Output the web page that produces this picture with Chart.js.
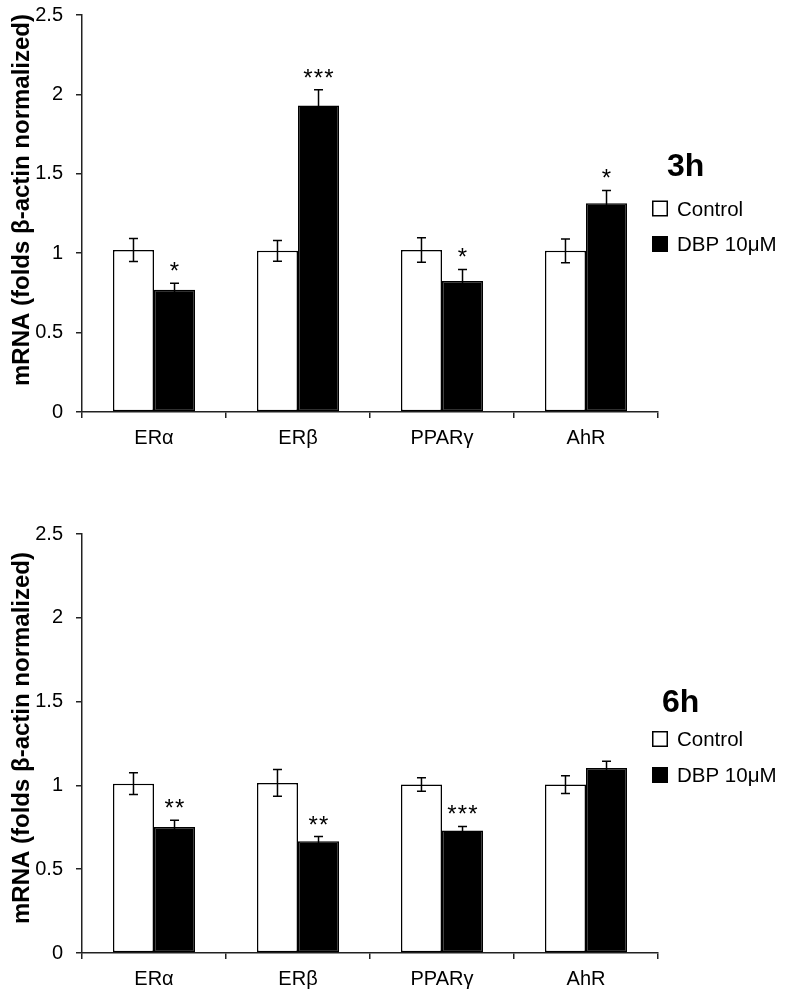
<!DOCTYPE html>
<html>
<head>
<meta charset="utf-8">
<script src="https://cdn.jsdelivr.net/npm/chart.js@4.4.1/dist/chart.umd.min.js"></script>
<style>
  html, body { margin: 0; padding: 0; background: #fff; }
  body { width: 786px; height: 992px; position: relative; overflow: hidden; }
  canvas { position: absolute; left: 0; }
  #chart3h { top: -10px; }
  #chart6h { top: 500px; }
</style>
</head>
<body>
<canvas id="chart3h" width="786" height="480"></canvas>
<canvas id="chart6h" width="786" height="492"></canvas>
<script>
const genes = ['ERα', 'ERβ', 'PPARγ', 'AhR'];
const seriesNames = ['Control', 'DBP 10μM'];
const yTicks = [0, 0.5, 1, 1.5, 2, 2.5];
const yTitle = 'mRNA (folds β-actin normalized)';

// 3h
const control3h = [1.02, 1.015, 1.02, 1.015];
const controlErr3h = [0.073, 0.065, 0.077, 0.075];
const dbp3h = [0.77, 1.93, 0.825, 1.315];
const dbpErr3h = [0.04, 0.10, 0.073, 0.08];
const sig3h = ['*', '***', '*', '*'];

// 6h
const control6h = [1.01, 1.015, 1.005, 1.005];
const controlErr6h = [0.065, 0.08, 0.04, 0.053];
const dbp6h = [0.752, 0.667, 0.731, 1.104];
const dbpErr6h = [0.04, 0.028, 0.024, 0.04];
const sig6h = ['**', '**', '***', ''];

const FONT = "'Liberation Sans', Arial, sans-serif";

// error bars + significance stars
const errorBars = {
    id: 'errorBars',
    afterDatasetsDraw(chart) {
        const ctx = chart.ctx;
        const y = chart.scales.y;
        chart.data.datasets.forEach((ds, i) => {
            const meta = chart.getDatasetMeta(i);
            meta.data.forEach((bar, j) => {
                const v = ds.data[j], e = ds.errors[j];
                const top = y.getPixelForValue(v + e);
                const bot = y.getPixelForValue(v - e);
                ctx.save();
                ctx.strokeStyle = '#000';
                ctx.lineWidth = 1.5;
                ctx.beginPath();
                ctx.moveTo(bar.x, top); ctx.lineTo(bar.x, bot);
                ctx.moveTo(bar.x - 4.5, top); ctx.lineTo(bar.x + 4.5, top);
                ctx.moveTo(bar.x - 4.5, bot); ctx.lineTo(bar.x + 4.5, bot);
                ctx.stroke();
                const s = ds.stars ? ds.stars[j] : '';
                if (s) {
                    ctx.fillStyle = '#000';
                    ctx.font = '24px ' + FONT;
                    ctx.textAlign = 'center';
                    ctx.textBaseline = 'alphabetic';
                    const step = 10.5;
                    const x0 = bar.x - (s.length - 1) * step / 2;
                    for (let k = 0; k < s.length; k++) {
                        ctx.fillText('*', x0 + k * step, top - 4);
                    }
                }
                ctx.restore();
            });
        });
    }
};

// legend box, panel label and rotated y title
const sideText = {
    id: 'sideText',
    afterDraw(chart, args, opts) {
        const ctx = chart.ctx;
        const area = chart.chartArea;
        ctx.save();
        ctx.fillStyle = '#000';
        ctx.textAlign = 'left';
        ctx.textBaseline = 'alphabetic';

        ctx.font = 'bold 32px ' + FONT;
        ctx.fillText(opts.panel, opts.panelX, opts.panelY + 0.358 * 32);

        const boxX = area.right - 6;
        chart.data.datasets.forEach((ds, i) => {
            const cy = opts.rows[i];
            ctx.fillStyle = ds.backgroundColor;
            ctx.fillRect(boxX, cy - 8, 16, 16);
            ctx.strokeStyle = '#000';
            ctx.lineWidth = 1.5;
            ctx.strokeRect(boxX + 0.75, cy - 7.25, 14.5, 14.5);
            ctx.fillStyle = '#000';
            ctx.font = '20.5px ' + FONT;
            ctx.fillText(ds.label, boxX + 25, cy + 0.358 * 20.5);
        });

        ctx.translate(28.5, opts.titleY);
        ctx.rotate(-Math.PI / 2);
        ctx.textAlign = 'center';
        ctx.textBaseline = 'alphabetic';
        ctx.font = 'bold 24px ' + FONT;
        ctx.fillText(yTitle, 0, 0);
        ctx.restore();
    }
};

const makeChart = (id, control, controlErr, dbp, dbpErr, sig, layout, textOpts) => {
    const ctx = document.getElementById(id).getContext('2d');
    return new Chart(ctx, {
        type: 'bar',
        data: {
            labels: genes,
            datasets: [{
                label: seriesNames[0],
                data: control,
                errors: controlErr,
                backgroundColor: '#ffffff',
                borderColor: '#000000',
                borderWidth: 1.5,
                borderSkipped: false
            }, {
                label: seriesNames[1],
                data: dbp,
                errors: dbpErr,
                stars: sig,
                backgroundColor: '#000000',
                borderColor: '#000000',
                borderWidth: 1.5,
                borderSkipped: false
            }]
        },
        options: {
            responsive: false,
            animation: false,
            devicePixelRatio: 1,
            categoryPercentage: 0.57,
            barPercentage: 1,
            layout: { padding: { left: 0, right: 128, top: layout.top, bottom: 0 } },
            plugins: {
                legend: { display: false },
                tooltip: { enabled: false },
                sideText: textOpts
            },
            scales: {
                x: {
                    offset: true,
                    border: { color: '#222', width: 1.5 },
                    grid: { drawOnChartArea: false, drawTicks: true, tickLength: 6, color: '#222', lineWidth: 1.5, offset: true },
                    ticks: { color: '#000', font: { family: FONT, size: 20 }, padding: 8, maxRotation: 0 },
                    afterFit: s => { s.height = layout.xHeight; }
                },
                y: {
                    min: yTicks[0],
                    max: yTicks[yTicks.length - 1],
                    border: { color: '#222', width: 1.5 },
                    grid: { drawOnChartArea: false, drawTicks: true, tickLength: 6, color: '#222', lineWidth: 1.5 },
                    ticks: { color: '#000', font: { family: FONT, size: 20 }, padding: 13, callback: v => String(v) },
                    afterBuildTicks: s => { s.ticks = yTicks.map(v => ({ value: v })); },
                    afterFit: s => { s.width = 82; }
                }
            }
        },
        plugins: [errorBars, sideText]
    });
};

// top canvas sits 10px above the page edge, so its coordinates are page y + 10
makeChart('chart3h', control3h, controlErr3h, dbp3h, dbpErr3h, sig3h,
    { top: 23, xHeight: 58 },
    { panel: '3h', panelX: 667, panelY: 174.5, rows: [218.5, 254], titleY: 210 });

makeChart('chart6h', control6h, controlErr6h, dbp6h, dbpErr6h, sig6h,
    { top: 34, xHeight: 39 },
    { panel: '6h', panelX: 662, panelY: 201, rows: [239, 275], titleY: 238 });
</script>
</body>
</html>
